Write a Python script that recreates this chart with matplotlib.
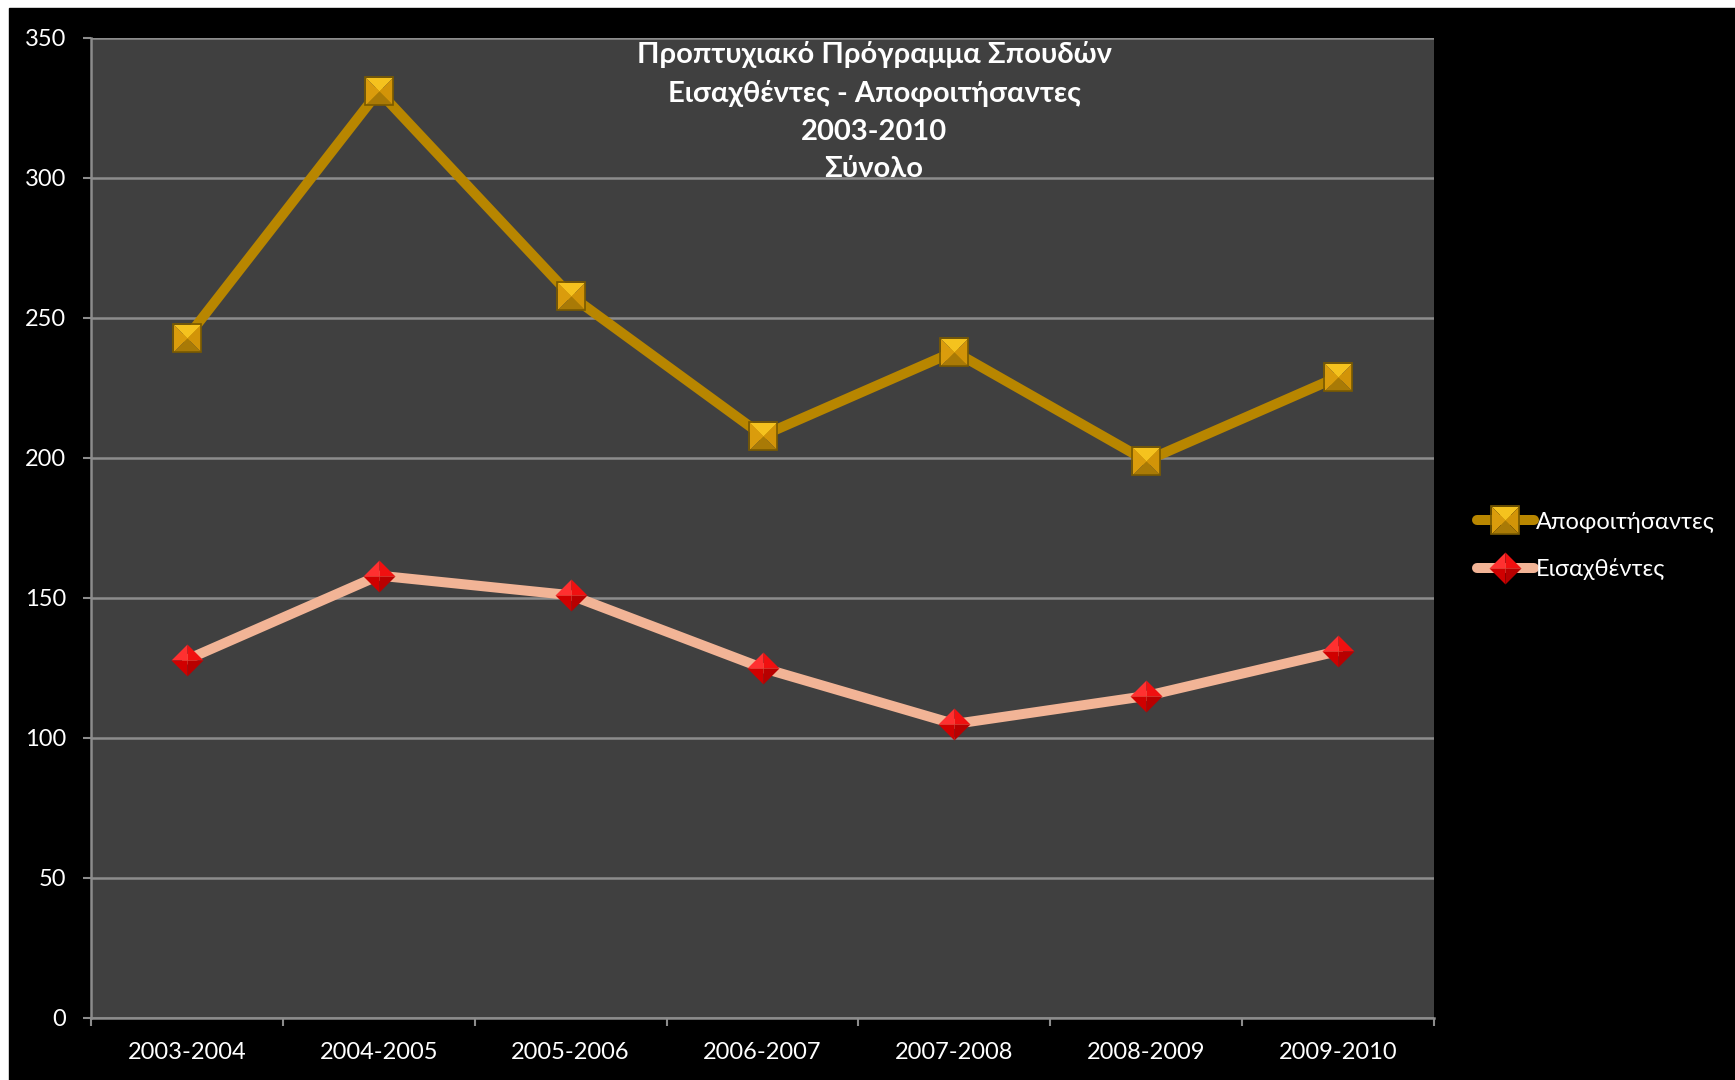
import matplotlib.pyplot as plt
import numpy as np
from matplotlib.path import Path
from matplotlib.patches import Rectangle
from matplotlib.legend_handler import HandlerTuple

years = ['2003-2004', '2004-2005', '2005-2006', '2006-2007',
         '2007-2008', '2008-2009', '2009-2010']
apofoitisantes = [243, 331, 258, 208, 238, 199, 229]
eisaxthentes = [128, 158, 151, 125, 105, 115, 131]

title = 'Προπτυχιακό Πρόγραμμα Σπουδών\nΕισαχθέντες - Αποφοιτήσαντες\n2003-2010\nΣύνολο'

plt.rcParams['font.family'] = ['Lato', 'DejaVu Sans']

fig = plt.figure(figsize=(17.35, 10.8), dpi=100, facecolor='white')
# black chart area, white strip at top and left like the screenshot
fig.patches.append(Rectangle((9 / 1735, 0), 1, 1 - 8 / 1080,
                             transform=fig.transFigure, color='black', zorder=-5))
ax = fig.add_axes([91 / 1735, 1 - 1018 / 1080, (1434 - 91) / 1735, 980 / 1080])
ax.set_facecolor('#404040')

x = np.arange(len(years))

# pyramid-like facets for the markers
sq_top = Path([(-1, 1), (1, 1), (0, 0), (-1, 1)])
sq_bot = Path([(-1, -1), (1, -1), (0, 0), (-1, -1)])
sq_left = Path([(-1, -1), (-1, 1), (0, 0), (-1, -1)])
sq_right = Path([(1, -1), (1, 1), (0, 0), (1, -1)])
dm_ul = Path([(0, 1), (-1, 0), (0, 0), (0, 1)])
dm_ur = Path([(0, 1), (1, 0), (0, 0), (0, 1)])
dm_ll = Path([(0, -1), (-1, 0), (0, 0), (0, -1)])
dm_lr = Path([(0, -1), (1, 0), (0, 0), (0, -1)])

l1, = ax.plot(x, apofoitisantes, color='#B88600', lw=7.2, zorder=3,
              solid_capstyle='round')
h1 = [l1]
for p, c in [(sq_top, '#F5C21E'), (sq_left, '#DA9C0C'), (sq_right, '#D29408'), (sq_bot, '#A97A06')]:
    m, = ax.plot(x, apofoitisantes, ls='none', marker=p, ms=19.5, mfc=c, mec='none', zorder=4)
    h1.append(m)
m, = ax.plot(x, apofoitisantes, ls='none', marker='s', ms=19.5, mfc='none', mec='#7A5A00', mew=1.2, zorder=5)
h1.append(m)

l2, = ax.plot(x, eisaxthentes, color='#F2B496', lw=7.2, zorder=3,
              solid_capstyle='round')
h2 = [l2]
for p, c in [(dm_ul, '#FF3030'), (dm_ur, '#F01010'), (dm_ll, '#D00000'), (dm_lr, '#B80000')]:
    m, = ax.plot(x, eisaxthentes, ls='none', marker=p, ms=23, mfc=c, mec='none', zorder=4)
    h2.append(m)

ax.set_xlim(-0.5, len(years) - 0.5)
ax.set_ylim(0, 350)
ax.set_yticks(np.arange(0, 351, 50))
ax.set_xticks(x)
ax.set_xticklabels(years)
ax.set_xticks(np.arange(-0.5, len(years), 1), minor=True)
ax.grid(axis='y', color='#8C8C8C', lw=1.8)
ax.set_axisbelow(True)

for s in ['top', 'right']:
    ax.spines[s].set_visible(False)
for s in ['left', 'bottom']:
    ax.spines[s].set_color('#8C8C8C')
    ax.spines[s].set_linewidth(1.8)

ax.tick_params(axis='y', colors='#8C8C8C', labelcolor='white', labelsize=17,
               length=6, width=1.5, pad=12)
ax.tick_params(axis='x', which='major', length=0, labelcolor='white', labelsize=17, pad=17)
ax.tick_params(axis='x', which='minor', length=6, width=1.5, color='#8C8C8C')

ax.text(0.583, 0.997, title, transform=ax.transAxes, ha='center', va='top',
        color='white', fontsize=21, fontweight='bold', linespacing=1.55, zorder=6)

leg = fig.legend([tuple(h1), tuple(h2)], ['Αποφοιτήσαντες', 'Εισαχθέντες'],
                 handler_map={tuple: HandlerTuple(ndivide=1, pad=0)},
                 loc='center left', bbox_to_anchor=(1477 / 1735, 1 - 546 / 1080),
                 frameon=False, fontsize=17, handlelength=2.4, handletextpad=0.1,
                 labelspacing=1.1, borderpad=0, borderaxespad=0)
for t in leg.get_texts():
    t.set_color('white')

fig.savefig('out.png', dpi=100, facecolor=fig.get_facecolor())
